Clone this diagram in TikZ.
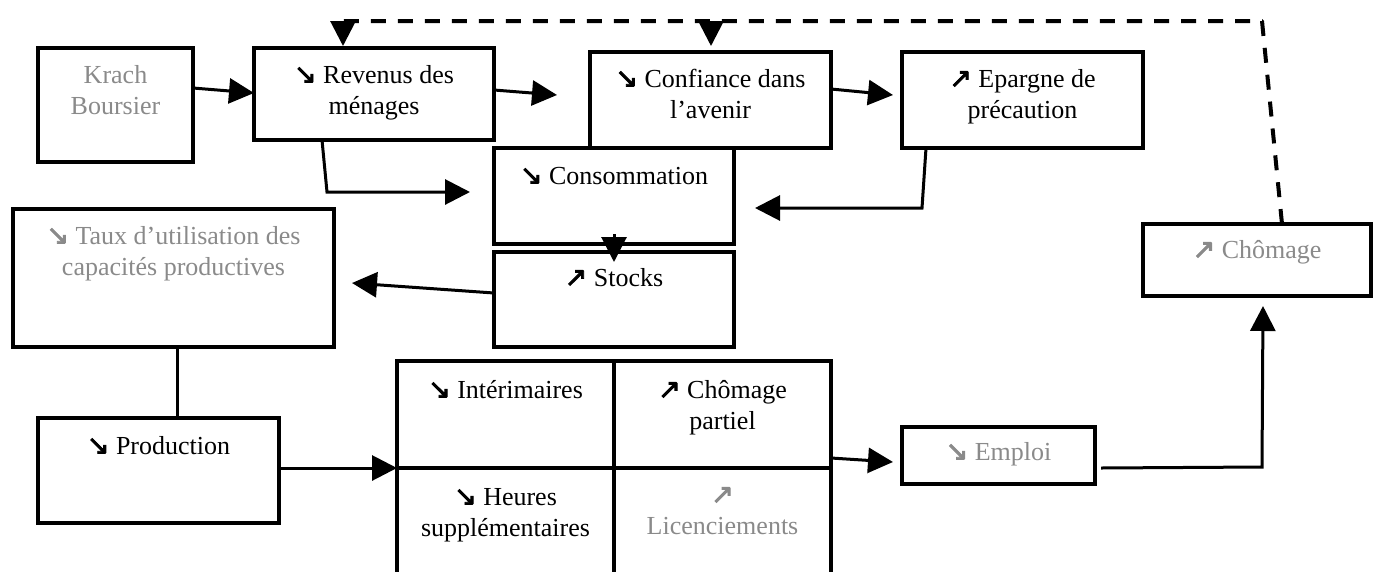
\documentclass[tikz,border=0pt]{standalone}
\usepackage{fontspec}
\setmainfont{Liberation Serif}
\newfontfamily\arrfont[FakeBold=3]{DejaVu Sans}
\usetikzlibrary{arrows.meta,calc}
\definecolor{txtgray}{HTML}{8A8A8A}
\newcommand{\ArrDn}{{\arrfont\fontsize{27}{27}\selectfont ↘}}
\newcommand{\ArrUp}{{\arrfont\fontsize{27}{27}\selectfont ↗}}
\begin{document}
\begin{tikzpicture}[x=1pt,y=-1pt,
  box/.style={draw, line width=3.2pt, anchor=north west, inner sep=0pt, outer sep=0pt},
  txt/.style={anchor=north, align=center, inner sep=0pt, font=\fontsize{26}{31}\selectfont},
  gtxt/.style={txt, text=txtgray},
  arr/.style={line width=3pt, -{Triangle[length=25pt,width=25pt]}},
  ln/.style={line width=3pt},
  fb/.style={line width=4pt, dash pattern=on 15pt off 12pt, line join=round}]
\useasboundingbox (0,0) rectangle (1375,571);
\clip (0,0) rectangle (1375,571);

% boxes
\node[box, minimum width=155pt, minimum height=114pt] (kb) at (38,48) {};
\node[box, minimum width=240pt, minimum height=92pt] (rv) at (254,48) {};
\node[box, minimum width=241pt, minimum height=96pt] (cf) at (590,52) {};
\node[box, minimum width=241pt, minimum height=96pt] (ep) at (902,52) {};
\node[box, minimum width=240pt, minimum height=96pt] (cs) at (494,148) {};
\node[box, minimum width=240pt, minimum height=95pt] (st) at (494,252) {};
\node[box, minimum width=321pt, minimum height=138pt] (tx) at (13,209) {};
\node[box, minimum width=241pt, minimum height=105pt] (pr) at (38,418) {};
\node[box, minimum width=217pt, minimum height=107pt] (g1) at (397,361) {};
\node[box, minimum width=217pt, minimum height=107pt] (g2) at (614,361) {};
\node[box, minimum width=217pt, minimum height=150pt] (g3) at (397,468) {};
\node[box, minimum width=217pt, minimum height=150pt] (g4) at (614,468) {};
\node[box, minimum width=193pt, minimum height=57pt] (em) at (902,427) {};
\node[box, minimum width=228pt, minimum height=72pt] (ch) at (1143,224) {};

% texts
\node[gtxt] (kbt) at ($(kb.north)+(0,13.3)$) {\strut Krach\\Boursier};
\node[txt] (rvt) at ($(rv.north)+(0,13.3)$) {\strut\ArrDn\ Revenus des\\ménages};
\node[txt] (cft) at ($(cf.north)+(0,13.3)$) {\strut\ArrDn\ Confiance dans\\l’avenir};
\node[txt] (ept) at ($(ep.north)+(0,13.3)$) {\strut\ArrUp\ Epargne de\\précaution};
\node[txt] (cst) at ($(cs.north)+(0,14.3)$) {\strut\ArrDn\ Consommation};
\node[txt] (stt) at ($(st.north)+(0,12.3)$) {\strut\ArrUp\ Stocks};
\node[gtxt] (txt1) at ($(tx.north)+(0,13.3)$) {\strut{\ArrDn} Taux d’utilisation des\\capacités productives};
\node[txt] (prt) at ($(pr.north)+(0,14.3)$) {\strut\ArrDn\ Production};
\node[txt] (g1t) at ($(g1.north)+(0,15.3)$) {\strut\ArrDn\ Intérimaires};
\node[txt] (g2t) at ($(g2.north)+(0,15.3)$) {\strut\ArrUp\ Chômage\\partiel};
\node[txt] (g3t) at ($(g3.north)+(0,15.3)$) {\strut\ArrDn\ Heures\\supplémentaires};
\node[gtxt] (g4t) at ($(g4.north)+(0,13.3)$) {\strut\ArrUp\\Licenciements};
\node[gtxt] (emt) at ($(em.north)+(0,11.3)$) {\strut\ArrDn\ Emploi};
\node[gtxt] (cht) at ($(ch.north)+(0,12.3)$) {\strut\ArrUp\ Chômage};

% connectors
\draw[arr] ($(kb.north east)+(0,40)$) -- ($(rv.north west)+(0,45)$);
\draw[arr] ($(rv.north east)+(0,42)$) -- ($(cf.north west)+(-33,43)$);
\draw[arr] ($(rv.south west)+(68,0)$) -- ($(rv.south west)+(73,52)$) -- ($(cs.north west)+(-24,44)$);
\draw[arr] ($(cf.north east)+(0,37)$) -- ($(ep.north west)+(-9,43)$);
\draw[arr] ($(ep.south west)+(24,0)$) -- ($(ep.south west)+(20,60)$) -- ($(cs.north east)+(21,60)$);
\draw[arr] ($(cs.south)+(0,-10)$) -- ($(st.north)+(0,10)$);
\draw[arr] ($(st.north west)+(0,41)$) -- ($(tx.north east)+(18,74)$);
\draw[ln] ($(tx.south west)+(164,0)$) -- ($(pr.north west)+(139,0)$);
\draw[arr] ($(pr.north east)+(0,50)$) -- (g1.south west);
\draw[arr] ($(g2.south east)+(0,-10)$) -- ($(em.north west)+(-9,35)$);
\draw[arr] ($(em.north east)+(6,41)$) -- ($(ch.south west)+(119,171)$) -- ($(ch.south west)+(120,10)$);

% dashed feedback
\coordinate (fbC) at (1262,21);
\coordinate (fbL) at (343,21);
\coordinate (fbM) at (711,21);
\draw[fb] ($(ch.north west)+(139,0)$) -- (fbC) -- (fbL);
\draw[arr] (fbL) -- ($(rv.north west)+(89,-2)$);
\draw[arr] (fbM) -- ($(cf.north west)+(121,-6)$);
\end{tikzpicture}
\end{document}
